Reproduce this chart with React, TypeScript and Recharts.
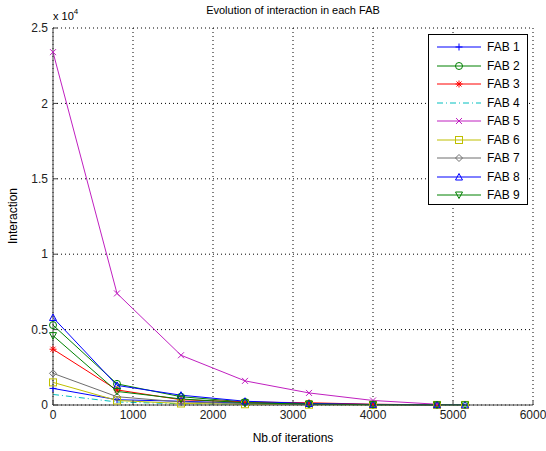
import React from "react";
import { CartesianGrid, Line, LineChart, XAxis, YAxis } from "recharts";

const iterations = [0, 800, 1600, 2400, 3200, 4000, 4800, 5150];
const xTicks = [0, 1000, 2000, 3000, 4000, 5000, 6000];
const yTicks = [0, 5000, 10000, 15000, 20000, 25000];

const fab1 = [1100, 350, 250, 120, 60, 30, 10];
const fab2 = [5300, 1400, 550, 200, 80, 30, 10];
const fab3 = [3700, 1000, 350, 200, 150, 50, 10];
const fab4 = [700, 200, 80, 40, 20, 10, 5];
const fab5 = [23400, 7400, 3300, 1600, 800, 300, 50];
const fab6 = [1500, 300, 100, 50, 20, 10, 5, 5];
const fab7 = [2100, 550, 200, 100, 40, 20, 10];
const fab8 = [5800, 1300, 650, 250, 100, 40, 20, 10];
const fab9 = [4600, 900, 400, 150, 60, 20, 10, 5];

type Shape = "plus" | "circle" | "star" | "none" | "cross" | "square" | "diamond" | "up" | "down";

const series: { name: string; values: number[]; color: string; shape: Shape; dash?: string }[] = [
  { name: "FAB 1", values: fab1, color: "#0000ff", shape: "plus" },
  { name: "FAB 2", values: fab2, color: "#008000", shape: "circle" },
  { name: "FAB 3", values: fab3, color: "#ff0000", shape: "star" },
  { name: "FAB 4", values: fab4, color: "#00bfbf", shape: "none", dash: "6 3 1 3" },
  { name: "FAB 5", values: fab5, color: "#c020c0", shape: "cross" },
  { name: "FAB 6", values: fab6, color: "#bfbf00", shape: "square" },
  { name: "FAB 7", values: fab7, color: "#6e6e6e", shape: "diamond" },
  { name: "FAB 8", values: fab8, color: "#0000ff", shape: "up" },
  { name: "FAB 9", values: fab9, color: "#008000", shape: "down" },
];

const FONT = "'Liberation Sans', Arial, sans-serif";

function Marker({ shape, color, x, y }: { shape: Shape; color: string; x: number; y: number }) {
  const s = 3.5;
  const p = { stroke: color, strokeWidth: 1, fill: "none" };
  switch (shape) {
    case "plus":
      return (
        <g {...p}>
          <line x1={x - s} y1={y} x2={x + s} y2={y} />
          <line x1={x} y1={y - s} x2={x} y2={y + s} />
        </g>
      );
    case "circle":
      return <circle cx={x} cy={y} r={s} {...p} />;
    case "star":
      return (
        <g {...p}>
          <line x1={x - s} y1={y} x2={x + s} y2={y} />
          <line x1={x} y1={y - s} x2={x} y2={y + s} />
          <line x1={x - 2.5} y1={y - 2.5} x2={x + 2.5} y2={y + 2.5} />
          <line x1={x - 2.5} y1={y + 2.5} x2={x + 2.5} y2={y - 2.5} />
        </g>
      );
    case "cross":
      return (
        <g {...p}>
          <line x1={x - 3} y1={y - 3} x2={x + 3} y2={y + 3} />
          <line x1={x - 3} y1={y + 3} x2={x + 3} y2={y - 3} />
        </g>
      );
    case "square":
      return <rect x={x - s} y={y - s} width={2 * s} height={2 * s} {...p} />;
    case "diamond":
      return <polygon points={`${x},${y - s} ${x + s},${y} ${x},${y + s} ${x - s},${y}`} {...p} />;
    case "up":
      return <polygon points={`${x},${y - s} ${x + s},${y + 3} ${x - s},${y + 3}`} {...p} />;
    case "down":
      return <polygon points={`${x},${y + s} ${x + s},${y - 3} ${x - s},${y - 3}`} {...p} />;
    default:
      return null;
  }
}

function makeDot(shape: Shape, color: string) {
  return (props: any) => {
    const { cx, cy, index } = props;
    if (shape === "none" || cx == null || cy == null) return <g key={index} />;
    return <Marker key={index} shape={shape} color={color} x={cx} y={cy} />;
  };
}

function Legend() {
  return (
    <div
      style={{
        position: "absolute",
        left: 428,
        top: 34,
        width: 100,
        height: 171,
        border: "1px solid #000",
        background: "#fff",
        fontFamily: FONT,
        fontSize: 12,
        boxSizing: "border-box",
        paddingTop: 3,
      }}
    >
      {series.map((s) => (
        <div key={s.name} style={{ display: "flex", alignItems: "center", height: 18.5 }}>
          <svg width={50} height={12} style={{ marginLeft: 6 }}>
            <line x1={2} y1={6} x2={46} y2={6} stroke={s.color} strokeWidth={1} strokeDasharray={s.dash} />
            <Marker shape={s.shape} color={s.color} x={24} y={6} />
          </svg>
          <span style={{ marginLeft: 2 }}>{s.name}</span>
        </div>
      ))}
    </div>
  );
}

export default function App() {
  return (
    <div style={{ position: "absolute", left: 0, top: 0, width: 546, height: 451, background: "#fff" }}>
      <LineChart width={546} height={451} margin={{ top: 28, right: 13, bottom: 0, left: 0 }}>
        <CartesianGrid stroke="#000" strokeDasharray="1 3" verticalValues={xTicks} horizontalValues={yTicks} />
        <XAxis
          dataKey="x"
          type="number"
          domain={[0, 6000]}
          ticks={xTicks}
          allowDuplicatedCategory={false}
          height={46}
          stroke="#404040"
          tickSize={-4}
          tickMargin={9}
          tick={{ fill: "#222", fontSize: 12, fontFamily: FONT }}
        />
        <XAxis
          xAxisId="top"
          orientation="top"
          type="number"
          domain={[0, 6000]}
          ticks={xTicks}
          height={0}
          stroke="#404040"
          tickSize={-4}
          tick={false}
        />
        <YAxis
          type="number"
          domain={[0, 25000]}
          ticks={yTicks}
          width={53}
          stroke="#404040"
          tickSize={-4}
          tickMargin={9}
          tickFormatter={(v: number) => String(v / 10000)}
          tick={{ fill: "#222", fontSize: 12, fontFamily: FONT }}
        />
        <YAxis
          yAxisId="right"
          orientation="right"
          type="number"
          domain={[0, 25000]}
          ticks={yTicks}
          width={0}
          stroke="#404040"
          tickSize={-4}
          tick={false}
        />
        {series.map((s) => (
          <Line
            key={s.name}
            data={s.values.map((v, i) => ({ x: iterations[i], v }))}
            dataKey="v"
            name={s.name}
            type="linear"
            stroke={s.color}
            strokeWidth={1}
            strokeDasharray={s.dash}
            dot={makeDot(s.shape, s.color)}
            activeDot={false}
            isAnimationActive={false}
          />
        ))}
        <text x={293} y={14} textAnchor="middle" fontSize={11} fontFamily={FONT} fill="#000">
          Evolution of interaction in each FAB
        </text>
        <text x={53} y={20} fontSize={11} fontFamily={FONT} fill="#000">
          x 10
          <tspan fontSize={8} dy={-6}>4</tspan>
        </text>
        <text x={293} y={442} textAnchor="middle" fontSize={12} fontFamily={FONT} fill="#000">
          Nb.of iterations
        </text>
        <text
          x={17}
          y={216}
          textAnchor="middle"
          fontSize={12}
          fontFamily={FONT}
          fill="#000"
          transform="rotate(-90 17 216)"
        >
          Interaction
        </text>
      </LineChart>
      <Legend />
    </div>
  );
}
